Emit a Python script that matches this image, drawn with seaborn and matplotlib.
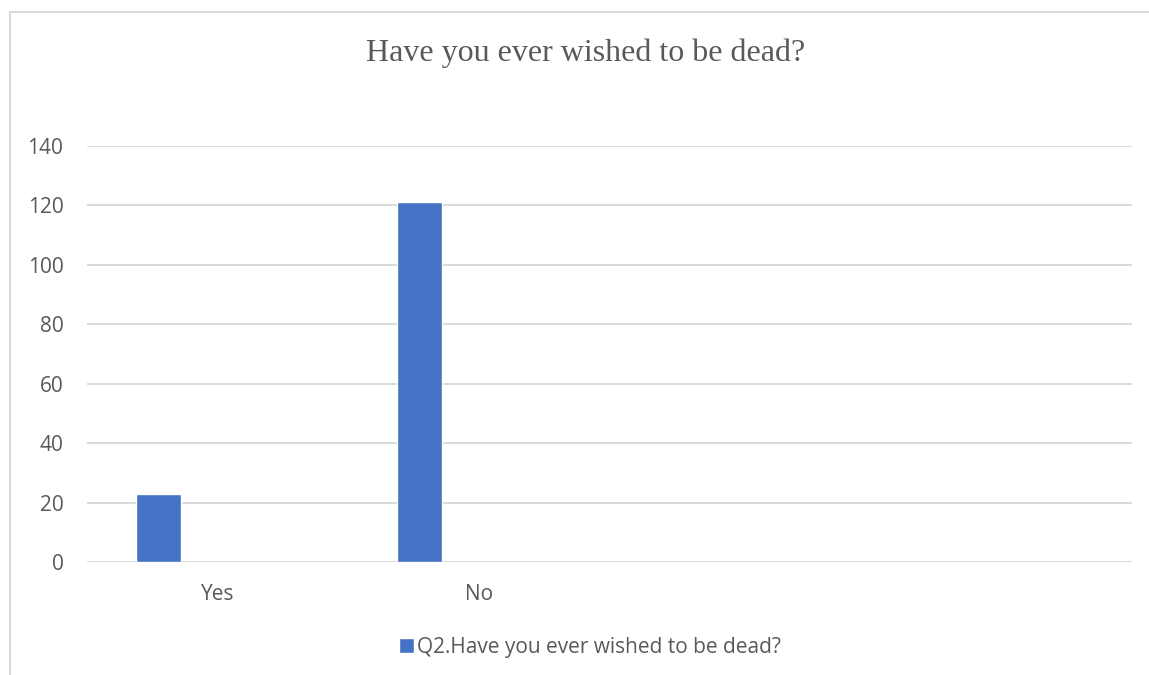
import matplotlib
matplotlib.use("Agg")
import matplotlib.pyplot as plt
from matplotlib.patches import Rectangle
import seaborn as sns
import pandas as pd

# Survey answers and counts
categories = ["Yes", "No", "", ""]
counts = [23, 121]
series_name = "Q2.Have you ever wished to be dead?"
title = "Have you ever wished to be dead?"
y_ticks = [0, 20, 40, 60, 80, 100, 120, 140]

BAR_COLOR = "#4472C4"
GRID_COLOR = "#d9d9d9"
TEXT_COLOR = "#595959"
bar_offset = -0.226   # bars sit left of the category centre (clustered layout)
bar_width = 0.172

sns.set_theme(style="white")
plt.rcParams["font.family"] = ["Open Sans", "DejaVu Sans"]

fig = plt.figure(figsize=(11.49, 6.75), dpi=100)
ax = fig.add_axes([87 / 1149, 1 - 562 / 675, (1132 - 87) / 1149, (562 - 146) / 675])

df = pd.DataFrame({
    "pos": [i + bar_offset for i in range(len(counts))],
    "count": counts,
})
sns.barplot(data=df, x="pos", y="count", native_scale=True, width=bar_width,
            color=BAR_COLOR, saturation=1, ax=ax, zorder=3)

ax.set_xlim(-0.5, len(categories) - 0.5)
ax.set_ylim(0, 140)
ax.set_yticks(y_ticks)
ax.set_xticks(range(len(categories)))
ax.set_xticklabels(categories)
ax.set_xlabel("")
ax.set_ylabel("")
ax.yaxis.grid(True, color=GRID_COLOR, linewidth=1.4)
ax.set_axisbelow(True)
for s in ax.spines.values():
    s.set_visible(False)
ax.tick_params(axis="both", length=0, labelsize=15, labelcolor=TEXT_COLOR)
ax.tick_params(axis="y", pad=17)
ax.tick_params(axis="x", pad=15.5)

fig.text(586 / 1149, 1 - 53 / 675, title, ha="center", va="center",
         fontsize=23, color=TEXT_COLOR, family="Liberation Serif")

fig.legend(handles=ax.patches[:1], labels=[series_name],
           loc="center", bbox_to_anchor=(590 / 1149, 1 - 647 / 675),
           frameon=False, fontsize=15, handlelength=0.72, handleheight=0.72,
           handletextpad=0.15, labelcolor=TEXT_COLOR)

# outer chart frame
fig.patches.append(Rectangle((10 / 1149, -0.1), 1.2, 1.1 - 12 / 675,
                             transform=fig.transFigure, fill=False,
                             edgecolor=GRID_COLOR, linewidth=1.4, zorder=0))

fig.savefig("out.png", dpi=100)
